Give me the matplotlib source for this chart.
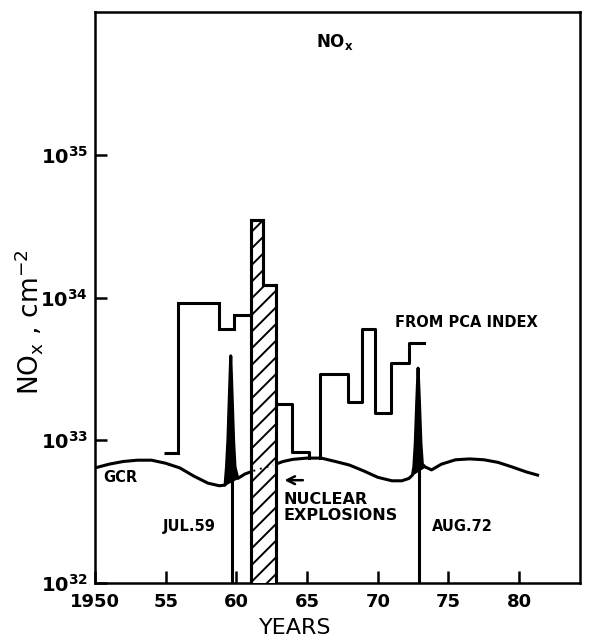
import numpy as np
import matplotlib.pyplot as plt
from matplotlib.ticker import FixedLocator, FixedFormatter, NullLocator

# PCA-index steps before the nuclear bar
pca_a_edges = [1954.9, 1955.9, 1958.8, 1959.8, 1961.0]
pca_a_vals = [8.1e32, 9.1e33, 6.0e33, 7.6e33]

# steps right after the bar, ending on the GCR curve
pca_b_years = [1962.8, 1963.9, 1965.1]
pca_b_vals = [1.8e33, 8.3e32, 7.5e32]

# second PCA block, starting from the GCR curve
pca_c_years = [1965.9, 1965.9, 1967.9, 1968.9, 1969.8, 1970.9, 1972.2, 1973.3]
pca_c_vals = [7.5e32, 2.9e33, 1.85e33, 6.0e33, 1.55e33, 3.5e33, 4.8e33, 4.8e33]

# nuclear explosions (hatched)
nuc_edges = [1961.0, 1961.9, 1962.8]
nuc_vals = [3.5e34, 1.23e34]

# galactic cosmic rays, with the two SPE spikes
gcr_years = np.array([1950.0, 1951.0, 1952.0, 1953.0, 1954.0, 1955.0, 1956.0, 1957.0,
                      1958.0, 1958.8, 1959.2, 1959.3, 1959.4, 1959.5, 1959.6, 1959.7,
                      1959.8, 1959.9, 1960.1, 1960.6, 1961.2, 1961.9, 1962.6, 1963.3,
                      1964.0, 1965.0, 1966.0, 1967.0, 1968.0, 1969.0, 1970.0, 1971.0,
                      1971.7, 1972.2, 1972.45, 1972.55, 1972.65, 1972.75, 1972.85,
                      1972.95, 1973.05, 1973.15, 1973.35, 1973.8, 1974.5, 1975.5,
                      1976.5, 1977.5, 1978.5, 1979.5, 1980.5, 1981.3])
gcr_vals = np.array([6.4e32, 6.8e32, 7.1e32, 7.25e32, 7.25e32, 6.9e32, 6.4e32, 5.6e32,
                     5.0e32, 4.8e32, 4.85e32, 6.5e32, 1.0e33, 2.0e33, 3.9e33, 2.0e33,
                     1.0e33, 6.5e32, 5.4e32, 5.8e32, 6.1e32, 6.4e32, 6.7e32, 7.1e32,
                     7.35e32, 7.5e32, 7.5e32, 7.1e32, 6.7e32, 6.1e32, 5.5e32, 5.2e32,
                     5.2e32, 5.4e32, 5.7e32, 6.5e32, 9.5e32, 1.8e33, 3.2e33,
                     1.8e33, 9.5e32, 6.8e32, 6.5e32, 6.2e32, 6.8e32, 7.3e32,
                     7.4e32, 7.3e32, 7.0e32, 6.5e32, 6.0e32, 5.7e32])
spike_windows = [(1959.2, 1960.1), (1972.45, 1973.35)]

event_years = [1959.7, 1972.9]
event_tops = [8e32, 8e32]

x_ticks = [1950, 1955, 1960, 1965, 1970, 1975, 1980]
x_labels = ['1950', '55', '60', '65', '70', '75', '80']
y_ticks = [1e32, 1e33, 1e34, 1e35]
y_labels = [r'$\mathbf{10^{32}}$', r'$\mathbf{10^{33}}$', r'$\mathbf{10^{34}}$', r'$\mathbf{10^{35}}$']

plt.rcParams['hatch.linewidth'] = 1.4
lw = 2.2

fig = plt.figure(figsize=(5.89, 6.42), dpi=100)
ax = fig.add_axes([0.1613, 0.0919, 0.8234, 0.8894])
ax.set_yscale('log')
ax.set_xlim(1950, 1984.3)
ax.set_ylim(1e32, 1e36)

# GCR curve (solid), hidden under the bar, then dotted across it
ax.plot(gcr_years, gcr_vals, color='black', lw=lw, zorder=2)
for lo, hi in spike_windows:
    m = (gcr_years >= lo) & (gcr_years <= hi)
    ax.fill(gcr_years[m], gcr_vals[m], color='black', zorder=2)
ax.vlines(event_years, 1e32, event_tops, color='black', lw=lw, zorder=2)

ax.stairs(nuc_vals, nuc_edges, baseline=1e32, fill=True, facecolor='white',
          edgecolor='black', hatch='//', lw=lw, zorder=3)
ax.stairs(nuc_vals, nuc_edges, baseline=1e32, color='black', lw=lw, zorder=4)
inside = (gcr_years >= nuc_edges[0]) & (gcr_years <= nuc_edges[-1])
ax.plot(gcr_years[inside], gcr_vals[inside], color='black', lw=1.4, ls=(0, (1, 2.5)), zorder=4)

# PCA steps
ax.stairs(pca_a_vals, pca_a_edges, baseline=None, color='black', lw=lw, zorder=3)
ax.step(pca_b_years, pca_b_vals, where='post', color='black', lw=lw, zorder=3)
ax.step(pca_c_years, pca_c_vals, where='post', color='black', lw=lw, zorder=3)

# labels in the plot
ax.text(0.495, 0.947, r'NO$_\mathbf{x}$', transform=ax.transAxes, ha='center', va='center',
        fontsize=12, fontweight='bold')
ax.text(1971.2, 6.7e33, 'FROM PCA INDEX', ha='left', va='center', fontsize=10.5, fontweight='bold')
ax.text(1950.6, 5.5e32, 'GCR', ha='left', va='center', fontsize=10.5, fontweight='bold')
ax.text(1958.55, 2.5e32, 'JUL.59', ha='right', va='center', fontsize=10.5, fontweight='bold')
ax.text(1973.8, 2.5e32, 'AUG.72', ha='left', va='center', fontsize=10.5, fontweight='bold')
ax.text(1963.35, 3.4e32, 'NUCLEAR\nEXPLOSIONS', ha='left', va='center', fontsize=11.5,
        fontweight='bold', linespacing=1.1)
ax.annotate('', xy=(1963.2, 5.25e32), xytext=(1964.9, 5.25e32),
            arrowprops=dict(arrowstyle='->', lw=1.8, color='black', mutation_scale=14))

# axes
ax.xaxis.set_major_locator(FixedLocator(x_ticks))
ax.xaxis.set_major_formatter(FixedFormatter(x_labels))
ax.yaxis.set_major_locator(FixedLocator(y_ticks))
ax.yaxis.set_major_formatter(FixedFormatter(y_labels))
ax.yaxis.set_minor_locator(NullLocator())
ax.xaxis.set_minor_locator(NullLocator())
ax.tick_params(direction='in', length=8.5, width=1.8, labelsize=13)
ax.tick_params(axis='x', pad=7)
ax.tick_params(axis='y', labelsize=14, pad=5)
for lab in ax.get_xticklabels():
    lab.set_fontweight('bold')
for s in ax.spines.values():
    s.set_linewidth(1.8)

ax.set_xlabel('YEARS', fontsize=16)
ax.xaxis.set_label_coords(0.413, -0.062)
ax.set_ylabel(r'NO$_\mathregular{x}$ , cm$^\mathregular{-2}$', fontsize=19)
ax.yaxis.set_label_coords(-0.103, 0.457)

fig.savefig('out.png', dpi=100)
